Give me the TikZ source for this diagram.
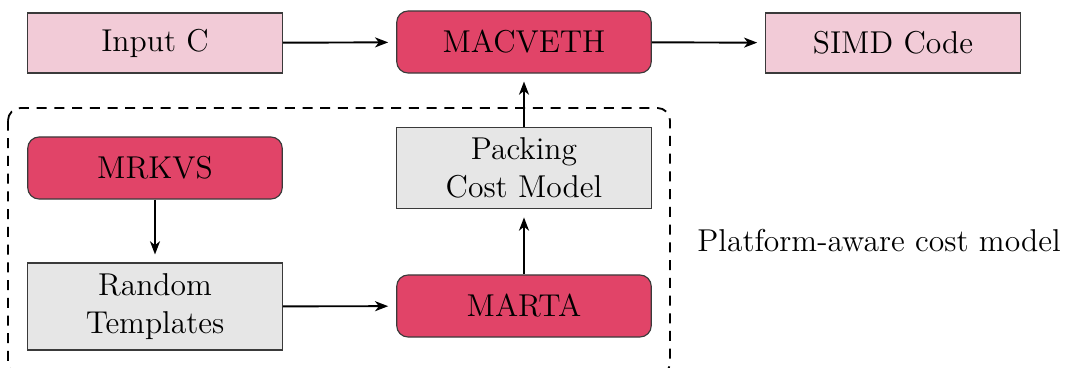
\documentclass[tikz,border=0pt]{standalone}
\usetikzlibrary{arrows.meta}
\definecolor{lightpink}{HTML}{F2CBD7}
\definecolor{strongred}{HTML}{E14468}
\definecolor{lightgray2}{HTML}{E6E6E6}
\definecolor{edgegray}{HTML}{3A3A3A}
\begin{document}
\begin{tikzpicture}[x=0.44pt,y=-0.44pt,
  every node/.style={font=\fontsize{13.9}{16.7}\selectfont, align=center, inner sep=0pt},
  box/.style={draw=edgegray, line width=0.5pt, minimum width=112pt},
  inbox/.style={box, fill=lightpink, minimum height=26.4pt},
  tool/.style={box, fill=strongred, rounded corners=5pt, minimum height=27.3pt},
  greybox/.style={box, fill=lightgray2},
  conn/.style={-{Stealth[length=5.8pt,width=4.4pt,inset=1.7pt]}, line width=0.85pt, shorten >=3.5pt},
  region/.style={draw, dashed, line width=0.8pt, dash pattern=on 4.4pt off 3.4pt, rounded corners=5.5pt}
]
\useasboundingbox (0,0) rectangle (1068,367);
\draw[region] (8,108) rectangle (670,375);
\node[inbox] (inC) at (155,43) {Input C};
\node[tool] (mac) at (524,42) {MACVETH};
\node[inbox] (simd) at (893,43) {SIMD Code};
\node[tool] (mrk) at (155,168) {MRKVS};
\node[greybox, minimum height=36pt] (pack) at (524,168) {Packing\\Cost Model};
\node[greybox, minimum height=38.3pt] (rand) at (155,306.5) {Random\\Templates};
\node[tool] (marta) at (524,306) {MARTA};
\node (lab) at (879,241) {Platform-aware cost model};
\draw[conn] (inC) -- (mac);
\draw[conn] (mac) -- (simd);
\draw[conn] (pack) -- (mac);
\draw[conn] (mrk) -- (rand);
\draw[conn] (rand) -- (marta);
\draw[conn] (marta) -- (pack);
\end{tikzpicture}
\end{document}
